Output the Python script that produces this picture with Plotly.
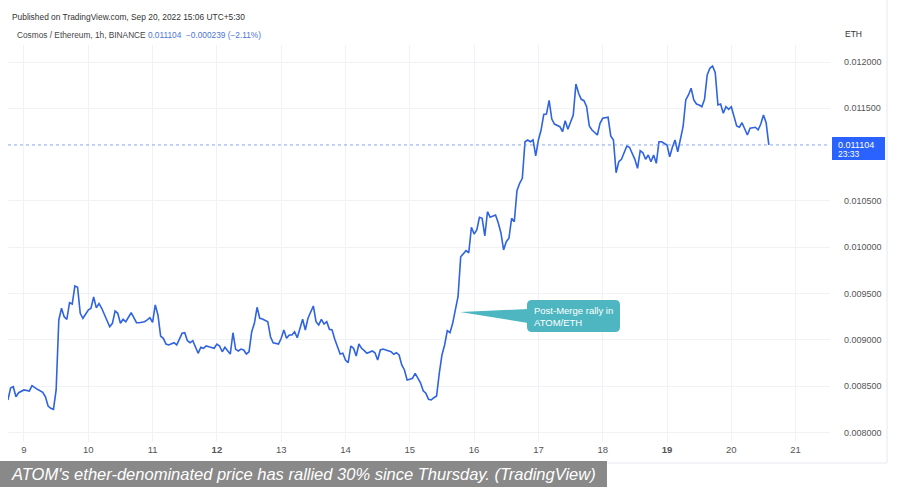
import pandas as pd
import plotly.graph_objects as go

# ---- data ----
hours = [-6, -5, -4, -3, -2, 0, 2, 3, 5, 7, 8, 9, 10, 11, 12, 13, 14, 15, 16, 17, 18, 19, 20, 21, 22,
         24, 25, 26, 27, 28, 29, 30, 32, 33, 34, 35, 36, 37, 38, 40, 41, 42, 43, 45, 46, 47, 48, 49, 50,
         51, 52, 53, 54, 56, 57, 59, 60, 61, 62, 63, 65, 66, 67, 68, 69, 71, 72, 73, 74, 75, 76, 77, 78,
         79, 80, 81, 82, 83, 84, 85, 86, 87, 88, 89, 91, 92, 93, 95, 96, 97, 98, 99, 100, 101, 102, 103,
         104, 105, 106, 108, 109, 110, 111, 112, 113, 114, 115, 116, 117, 118, 119, 120, 121, 122, 123,
         124, 125, 126, 127, 128, 130, 131, 132, 133, 134, 135, 137, 138, 139, 140, 141, 142, 143, 144,
         145, 146, 147, 148, 149, 150, 151, 152, 153, 154, 155, 156, 157, 158, 159, 160, 161, 162, 163,
         164, 165, 166, 167, 168, 169, 170, 171, 172, 173, 174, 176, 177, 178, 179, 180, 181, 182, 183,
         184, 185, 186, 187, 188, 189, 190, 191, 192, 193, 194, 195, 196, 197, 198, 200, 201, 202, 203,
         205, 206, 207, 208, 209, 210, 211, 212, 214, 215, 216, 218, 219, 220, 221, 222, 223, 225, 226,
         227, 228, 229, 230, 231, 232, 233, 234, 235, 236, 237, 238, 240, 241, 242, 243, 244, 246, 247,
         248, 249, 250, 251, 252, 253, 254, 255, 256, 257, 258, 259, 260, 261, 262, 263, 264, 266, 267,
         268, 270, 271, 273, 274, 275, 276, 277, 278]

prices = [0.008350, 0.008479, 0.008493, 0.008385, 0.008428, 0.008458, 0.008447, 0.008504, 0.008465,
          0.008433, 0.008385, 0.008285, 0.008260, 0.008249, 0.008458, 0.009214, 0.009340, 0.009249,
          0.009221, 0.009400, 0.009386, 0.009581, 0.009567, 0.009286, 0.009232,
          0.009322, 0.009340, 0.009462, 0.009345, 0.009392, 0.009340, 0.009268, 0.009141, 0.009178,
          0.009311, 0.009286, 0.009178, 0.009221, 0.009195, 0.009292, 0.009238, 0.009184, 0.009184,
          0.009195, 0.009214, 0.009238, 0.009189, 0.009376, 0.009268,
          0.009041, 0.009016, 0.008954, 0.008944, 0.008968, 0.008944, 0.009070, 0.009076, 0.008990,
          0.008968, 0.008990, 0.008854, 0.008919, 0.008908, 0.008933, 0.008925, 0.008908, 0.008954,
          0.008933, 0.008871, 0.008919, 0.008882, 0.008846, 0.009076,
          0.008897, 0.008879, 0.008900, 0.008890, 0.008846, 0.008871, 0.009087, 0.009178, 0.009351,
          0.009232, 0.009224, 0.009195, 0.009033, 0.008968, 0.008954, 0.009016, 0.009106, 0.009016,
          0.009052, 0.009052, 0.009087, 0.009022, 0.009135,
          0.009221, 0.009106, 0.009232, 0.009365, 0.009195, 0.009160, 0.009221, 0.009170, 0.009195,
          0.009113, 0.009106, 0.009005, 0.008925, 0.008846, 0.008854, 0.008782, 0.008752, 0.008933,
          0.008908,
          0.008825, 0.008954, 0.008908, 0.008882, 0.008854, 0.008879, 0.008860, 0.008782, 0.008890,
          0.008900, 0.008890, 0.008871, 0.008843, 0.008860, 0.008836, 0.008728, 0.008674, 0.008566,
          0.008573,
          0.008584, 0.008638, 0.008584, 0.008536, 0.008450, 0.008422, 0.008357, 0.008350, 0.008374,
          0.008393, 0.008638, 0.008836, 0.008944, 0.009098, 0.009076, 0.009178, 0.009322, 0.009465,
          0.009897,
          0.009926, 0.009962, 0.009940, 0.010215, 0.010142, 0.010186, 0.010323, 0.010312, 0.010121,
          0.010383, 0.010323, 0.010348, 0.010264, 0.010156, 0.009970, 0.010059, 0.010096, 0.010312,
          0.010275,
          0.010610, 0.010690, 0.010744, 0.011139, 0.011158, 0.011139, 0.011158, 0.010985, 0.011158,
          0.011266, 0.011433, 0.011438, 0.011586, 0.011384, 0.011330, 0.011301, 0.011247, 0.011366,
          0.011273,
          0.011428, 0.011762, 0.011662, 0.011597, 0.011582, 0.011517, 0.011309, 0.011266, 0.011212,
          0.011338, 0.011392, 0.011403, 0.011201, 0.011158, 0.010804, 0.010923, 0.010949, 0.011093,
          0.011079,
          0.011006, 0.010949, 0.010852, 0.011042, 0.011020, 0.010949, 0.010996, 0.010923, 0.010996,
          0.010906, 0.011139, 0.011139, 0.011104, 0.010977, 0.011079, 0.011158, 0.011031, 0.011301,
          0.011590,
          0.011644, 0.011716, 0.011590, 0.011546, 0.011536, 0.011517, 0.011597, 0.011860, 0.011932,
          0.011957, 0.011884, 0.011536, 0.011546, 0.011446, 0.011517, 0.011489, 0.011517, 0.011309,
          0.011295,
          0.011344, 0.011212, 0.011284, 0.011295, 0.011266, 0.011330, 0.011428, 0.011344, 0.011104]

day_ticks = [9, 10, 11, 12, 13, 14, 15, 16, 17, 18, 19, 20, 21]
day_labels = ["9", "10", "11", "<b>12</b>", "13", "14", "15", "16", "17", "18", "<b>19</b>", "20", "21"]
price_ticks = [0.0080, 0.0085, 0.0090, 0.0095, 0.0100, 0.0105, 0.0115, 0.0120]
last_price = 0.011104
countdown = "23:33"

start = pd.Timestamp("2022-09-09 00:00")
times = [start + pd.Timedelta(hours=h) for h in hours]
tick_dates = [pd.Timestamp(2022, 9, d) for d in day_ticks]

# ---- layout geometry (pixels of the 900x500 canvas) ----
L, R, T, B = 8, 830, 45, 442
W, H = R - L, B - T


def px(x):
    return (x - L) / W


def py(y):
    return (B - y) / H


FONT = "Liberation Sans, Arial, sans-serif"
LINE_BLUE = "#2f63e0"
TV_BLUE = "#2962ff"
TEAL = "#4db6c1"

fig = go.Figure()
fig.add_trace(go.Scatter(x=times, y=prices, mode="lines",
                         line=dict(color=LINE_BLUE, width=1.6),
                         hoverinfo="skip", showlegend=False))

shapes = []
# last price dotted line
shapes.append(dict(type="line", xref="paper", yref="y", x0=0, x1=1, y0=last_price, y1=last_price,
                   line=dict(color="#6a8ff0", width=0.8, dash="dot"), layer="above"))
# price label box
shapes.append(dict(type="rect", xref="paper", yref="paper", x0=px(832), x1=px(885),
                   y0=py(160), y1=py(137), fillcolor=TV_BLUE, line=dict(width=0), layer="above"))
# frame lines
shapes.append(dict(type="line", xref="paper", yref="paper", x0=px(887), x1=px(887),
                   y0=py(0), y1=py(463), line=dict(color="#e6e8ee", width=1)))
shapes.append(dict(type="line", xref="paper", yref="paper", x0=px(0), x1=px(887),
                   y0=py(463), y1=py(463), line=dict(color="#e6e8ee", width=1)))

# callout bubble with rounded corners
bx0, bx1, by0, by1, rr = 527, 620, 300, 332, 5
rx, ry = rr / W, rr / H
path = (f"M {px(bx0) + rx},{py(by0)} L {px(bx1) - rx},{py(by0)} "
        f"Q {px(bx1)},{py(by0)} {px(bx1)},{py(by0) - ry} "
        f"L {px(bx1)},{py(by1) + ry} Q {px(bx1)},{py(by1)} {px(bx1) - rx},{py(by1)} "
        f"L {px(bx0) + rx},{py(by1)} Q {px(bx0)},{py(by1)} {px(bx0)},{py(by1) + ry} "
        f"L {px(bx0)},{py(by0) - ry} Q {px(bx0)},{py(by0)} {px(bx0) + rx},{py(by0)} Z")
shapes.append(dict(type="path", xref="paper", yref="paper", path=path,
                   fillcolor=TEAL, line=dict(width=0), layer="above"))
# pointer
tri = f"M {px(460)},{py(312)} L {px(528)},{py(309)} L {px(528)},{py(323)} Z"
shapes.append(dict(type="path", xref="paper", yref="paper", path=tri,
                   fillcolor=TEAL, line=dict(width=0), layer="above"))

# caption bar
shapes.append(dict(type="rect", xref="paper", yref="paper", x0=px(0), x1=px(607),
                   y0=py(487), y1=py(461), fillcolor="#898989", line=dict(width=0), layer="above"))

annotations = [
    dict(text="Published on TradingView.com, Sep 20, 2022 15:06 UTC+5:30",
         x=px(10), y=py(17), xanchor="left", yanchor="middle",
         font=dict(family=FONT, size=8.4, color="#333333")),
    dict(text=("Cosmos / Ethereum, 1h, BINANCE&nbsp;"
               "<span style='color:#4a74d6'>0.011104&nbsp;&nbsp;−0.000239 (−2.11%)</span>"),
         x=px(15), y=py(35), xanchor="left", yanchor="middle",
         font=dict(family=FONT, size=8.3, color="#444444")),
    dict(text="ETH", x=px(843), y=py(34), xanchor="left", yanchor="middle",
         font=dict(family=FONT, size=8.5, color="#333333")),
    dict(text=f"{last_price:.6f}", x=px(836), y=py(145), xanchor="left", yanchor="middle",
         font=dict(family=FONT, size=9, color="white")),
    dict(text=countdown, x=px(836), y=py(154), xanchor="left", yanchor="middle",
         font=dict(family=FONT, size=8.5, color="white")),
    dict(text="Post-Merge rally in<br>ATOM/ETH", x=px(532), y=py(316),
         xanchor="left", yanchor="middle", align="left",
         font=dict(family=FONT, size=9.5, color="white")),
    dict(text="<i>ATOM's ether-denominated price has rallied 30% since Thursday. (TradingView)</i>",
         x=px(9), y=py(474), xanchor="left", yanchor="middle",
         font=dict(family=FONT, size=16.5, color="white")),
]
for a in annotations:
    a.update(xref="paper", yref="paper", showarrow=False)

fig.update_layout(
    width=900, height=500,
    margin=dict(l=L, r=900 - R, t=T, b=500 - B),
    paper_bgcolor="white", plot_bgcolor="white",
    shapes=shapes, annotations=annotations,
    xaxis=dict(type="date", range=["2022-09-08 18:02", "2022-09-21 12:50"],
               tickvals=tick_dates, ticktext=day_labels,
               showgrid=True, gridcolor="#f0f2f6", gridwidth=1,
               zeroline=False, showline=False, ticks="",
               tickfont=dict(family=FONT, size=9.5, color="#555555")),
    yaxis=dict(side="right", range=[0.0078960, 0.0121836],
               tickvals=price_ticks, ticktext=[f"{v:.6f}" for v in price_ticks],
               showgrid=True, gridcolor="#f0f2f6", gridwidth=1,
               zeroline=False, showline=False, ticks="", ticklabelstandoff=13,
               tickfont=dict(family=FONT, size=9, color="#555555")),
    showlegend=False,
)

fig.write_html("out.html", config={"displayModeBar": False},
               post_script="document.body.style.margin='0px';")
